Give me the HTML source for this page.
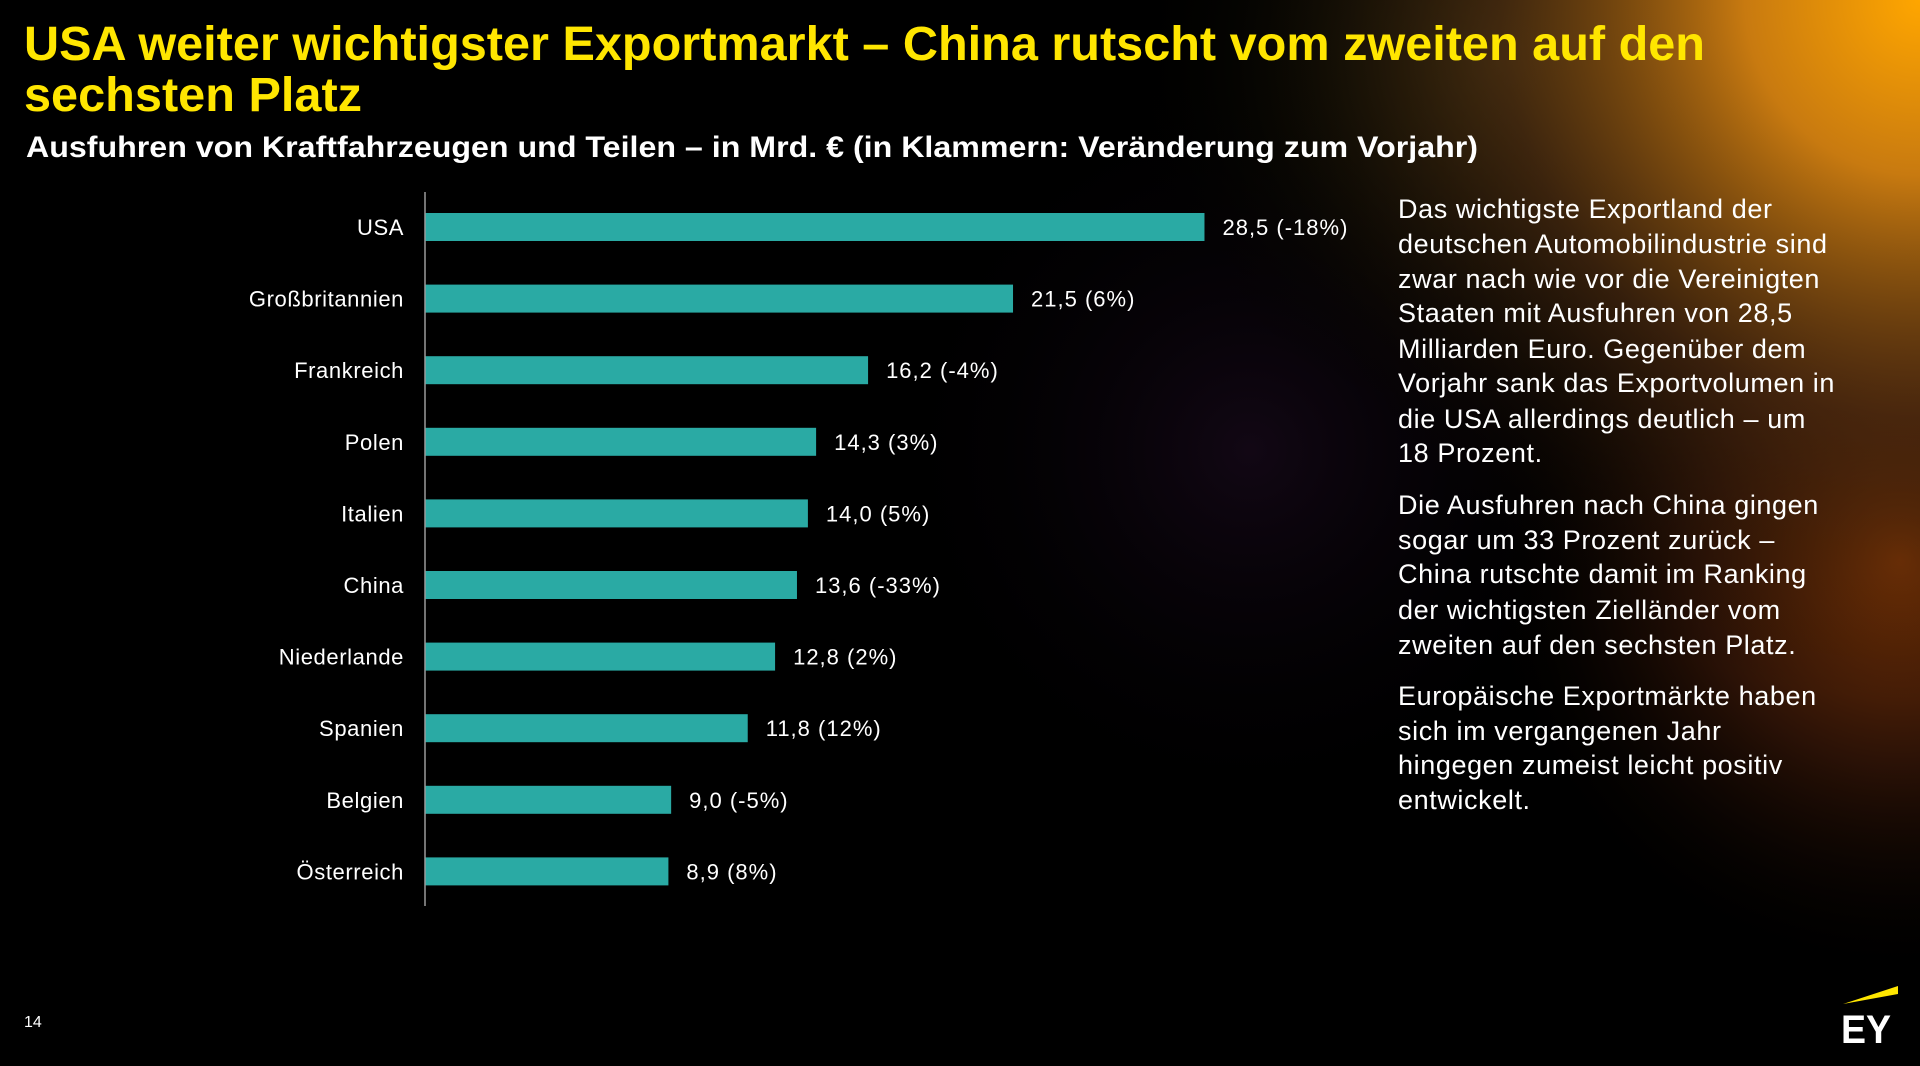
<!DOCTYPE html>
<html><head><meta charset="utf-8"><style>
html,body{margin:0;padding:0;background:#000;}
svg{display:block}
</style></head><body>
<svg id="chart" width="1920" height="1066" viewBox="0 0 1920 1066" xmlns="http://www.w3.org/2000/svg">
<defs>
<radialGradient id="g1" cx="1920" cy="0" r="700" gradientUnits="userSpaceOnUse">
<stop offset="0" stop-color="#ffa600"/><stop offset="0.25" stop-color="#c87a10"/><stop offset="0.6" stop-color="#4a2a10" stop-opacity="0.7"/><stop offset="1" stop-color="#000" stop-opacity="0"/>
</radialGradient>
<radialGradient id="g2" cx="1900" cy="560" r="420" gradientUnits="userSpaceOnUse">
<stop offset="0" stop-color="#8a3a05"/><stop offset="0.5" stop-color="#3a1808" stop-opacity="0.7"/><stop offset="1" stop-color="#000" stop-opacity="0"/>
</radialGradient>
<radialGradient id="g3" cx="1250" cy="450" r="380" gradientUnits="userSpaceOnUse">
<stop offset="0" stop-color="#1e0c22" stop-opacity="0.6"/><stop offset="1" stop-color="#000" stop-opacity="0"/>
</radialGradient>
<radialGradient id="g4" cx="1500" cy="60" r="380" gradientUnits="userSpaceOnUse">
<stop offset="0" stop-color="#3e3410" stop-opacity="0.85"/><stop offset="1" stop-color="#000" stop-opacity="0"/>
</radialGradient>
</defs>
<rect width="1920" height="1066" fill="#000"/>
<rect width="1920" height="1066" fill="url(#g3)"/>
<rect width="1920" height="1066" fill="url(#g4)"/>
<rect width="1920" height="1066" fill="url(#g2)"/>
<rect width="1920" height="1066" fill="url(#g1)"/>

<g font-family="'Liberation Sans', sans-serif" font-weight="bold" fill="#ffe600" font-size="48">
<text x="24" y="60" textLength="1681" lengthAdjust="spacingAndGlyphs">USA weiter wichtigster Exportmarkt – China rutscht vom zweiten auf den</text>
<text x="24" y="111" textLength="338" lengthAdjust="spacingAndGlyphs">sechsten Platz</text>
</g>
<text x="26" y="157" font-family="'Liberation Sans', sans-serif" font-weight="bold" font-size="30" fill="#fff" textLength="1452" lengthAdjust="spacingAndGlyphs">Ausfuhren von Kraftfahrzeugen und Teilen – in Mrd. € (in Klammern: Veränderung zum Vorjahr)</text>

<g id="bars"></g>
<line x1="425" y1="192" x2="425" y2="906" stroke="#9a9a9a" stroke-width="1.5"/>

<g font-family="'Liberation Sans', sans-serif" font-size="27" letter-spacing="0.6" fill="#fff">
<text x="1398" y="218">Das wichtigste Exportland der</text>
<text x="1398" y="253">deutschen Automobilindustrie sind</text>
<text x="1398" y="288">zwar nach wie vor die Vereinigten</text>
<text x="1398" y="322">Staaten mit Ausfuhren von 28,5</text>
<text x="1398" y="358">Milliarden Euro. Gegenüber dem</text>
<text x="1398" y="392">Vorjahr sank das Exportvolumen in</text>
<text x="1398" y="428">die USA  allerdings deutlich – um</text>
<text x="1398" y="462">18 Prozent.</text>
<text x="1398" y="514">Die Ausfuhren nach China gingen</text>
<text x="1398" y="549">sogar um 33 Prozent zurück –</text>
<text x="1398" y="583">China rutschte damit im Ranking</text>
<text x="1398" y="619">der wichtigsten Zielländer vom</text>
<text x="1398" y="654">zweiten auf den sechsten Platz.</text>
<text x="1398" y="705">Europäische Exportmärkte haben</text>
<text x="1398" y="740">sich im vergangenen Jahr</text>
<text x="1398" y="774">hingegen zumeist leicht positiv</text>
<text x="1398" y="809">entwickelt.</text>
</g>

<text x="24" y="1027" font-family="'Liberation Sans', sans-serif" font-size="16" fill="#fff">14</text>
<g>
<polygon points="1843,1004 1898,986 1898,994" fill="#ffe600"/>
<text x="1841" y="1043" font-family="'Liberation Sans', sans-serif" font-weight="bold" font-size="40" fill="#fff" textLength="50" lengthAdjust="spacingAndGlyphs">EY</text>
</g>
</svg>
<script>
const categories = ["USA","Großbritannien","Frankreich","Polen","Italien","China","Niederlande","Spanien","Belgien","Österreich"];
const values = [28.5,21.5,16.2,14.3,14.0,13.6,12.8,11.8,9.0,8.9];
const changes = ["-18%","6%","-4%","3%","5%","-33%","2%","12%","-5%","8%"];

const NS = "http://www.w3.org/2000/svg";
const x0 = 425, pxPerUnit = 27.35;
const yTop = 227, step = 71.6, barH = 28;
const xScale = v => x0 + v * pxPerUnit;
const yScale = i => yTop + i * step;
const g = document.getElementById('bars');
categories.forEach((c, i) => {
  const cy = yScale(i);
  const r = document.createElementNS(NS, 'rect');
  r.setAttribute('x', x0);
  r.setAttribute('y', cy - barH / 2);
  r.setAttribute('width', xScale(values[i]) - x0);
  r.setAttribute('height', barH);
  r.setAttribute('fill', '#2aaaa4');
  
  
  g.appendChild(r);
  const l = document.createElementNS(NS, 'text');
  l.setAttribute('x', 404);
  l.setAttribute('y', cy + 8);
  l.setAttribute('text-anchor', 'end');
  l.setAttribute('font-family', "'Liberation Sans', sans-serif");
  l.setAttribute('font-size', '22');
  l.setAttribute('letter-spacing', '0.6');
  l.setAttribute('fill', '#fff');
  l.textContent = c;
  
  
  g.appendChild(l);
  const v = document.createElementNS(NS, 'text');
  v.setAttribute('x', xScale(values[i]) + 18);
  v.setAttribute('y', cy + 8);
  v.setAttribute('font-family', "'Liberation Sans', sans-serif");
  v.setAttribute('font-size', '22');
  v.setAttribute('letter-spacing', '1');
  v.setAttribute('fill', '#fff');
  v.textContent = values[i].toFixed(1).replace('.', ',') + ' (' + changes[i] + ')';
  
  
  g.appendChild(v);
});
</script>
</body></html>
